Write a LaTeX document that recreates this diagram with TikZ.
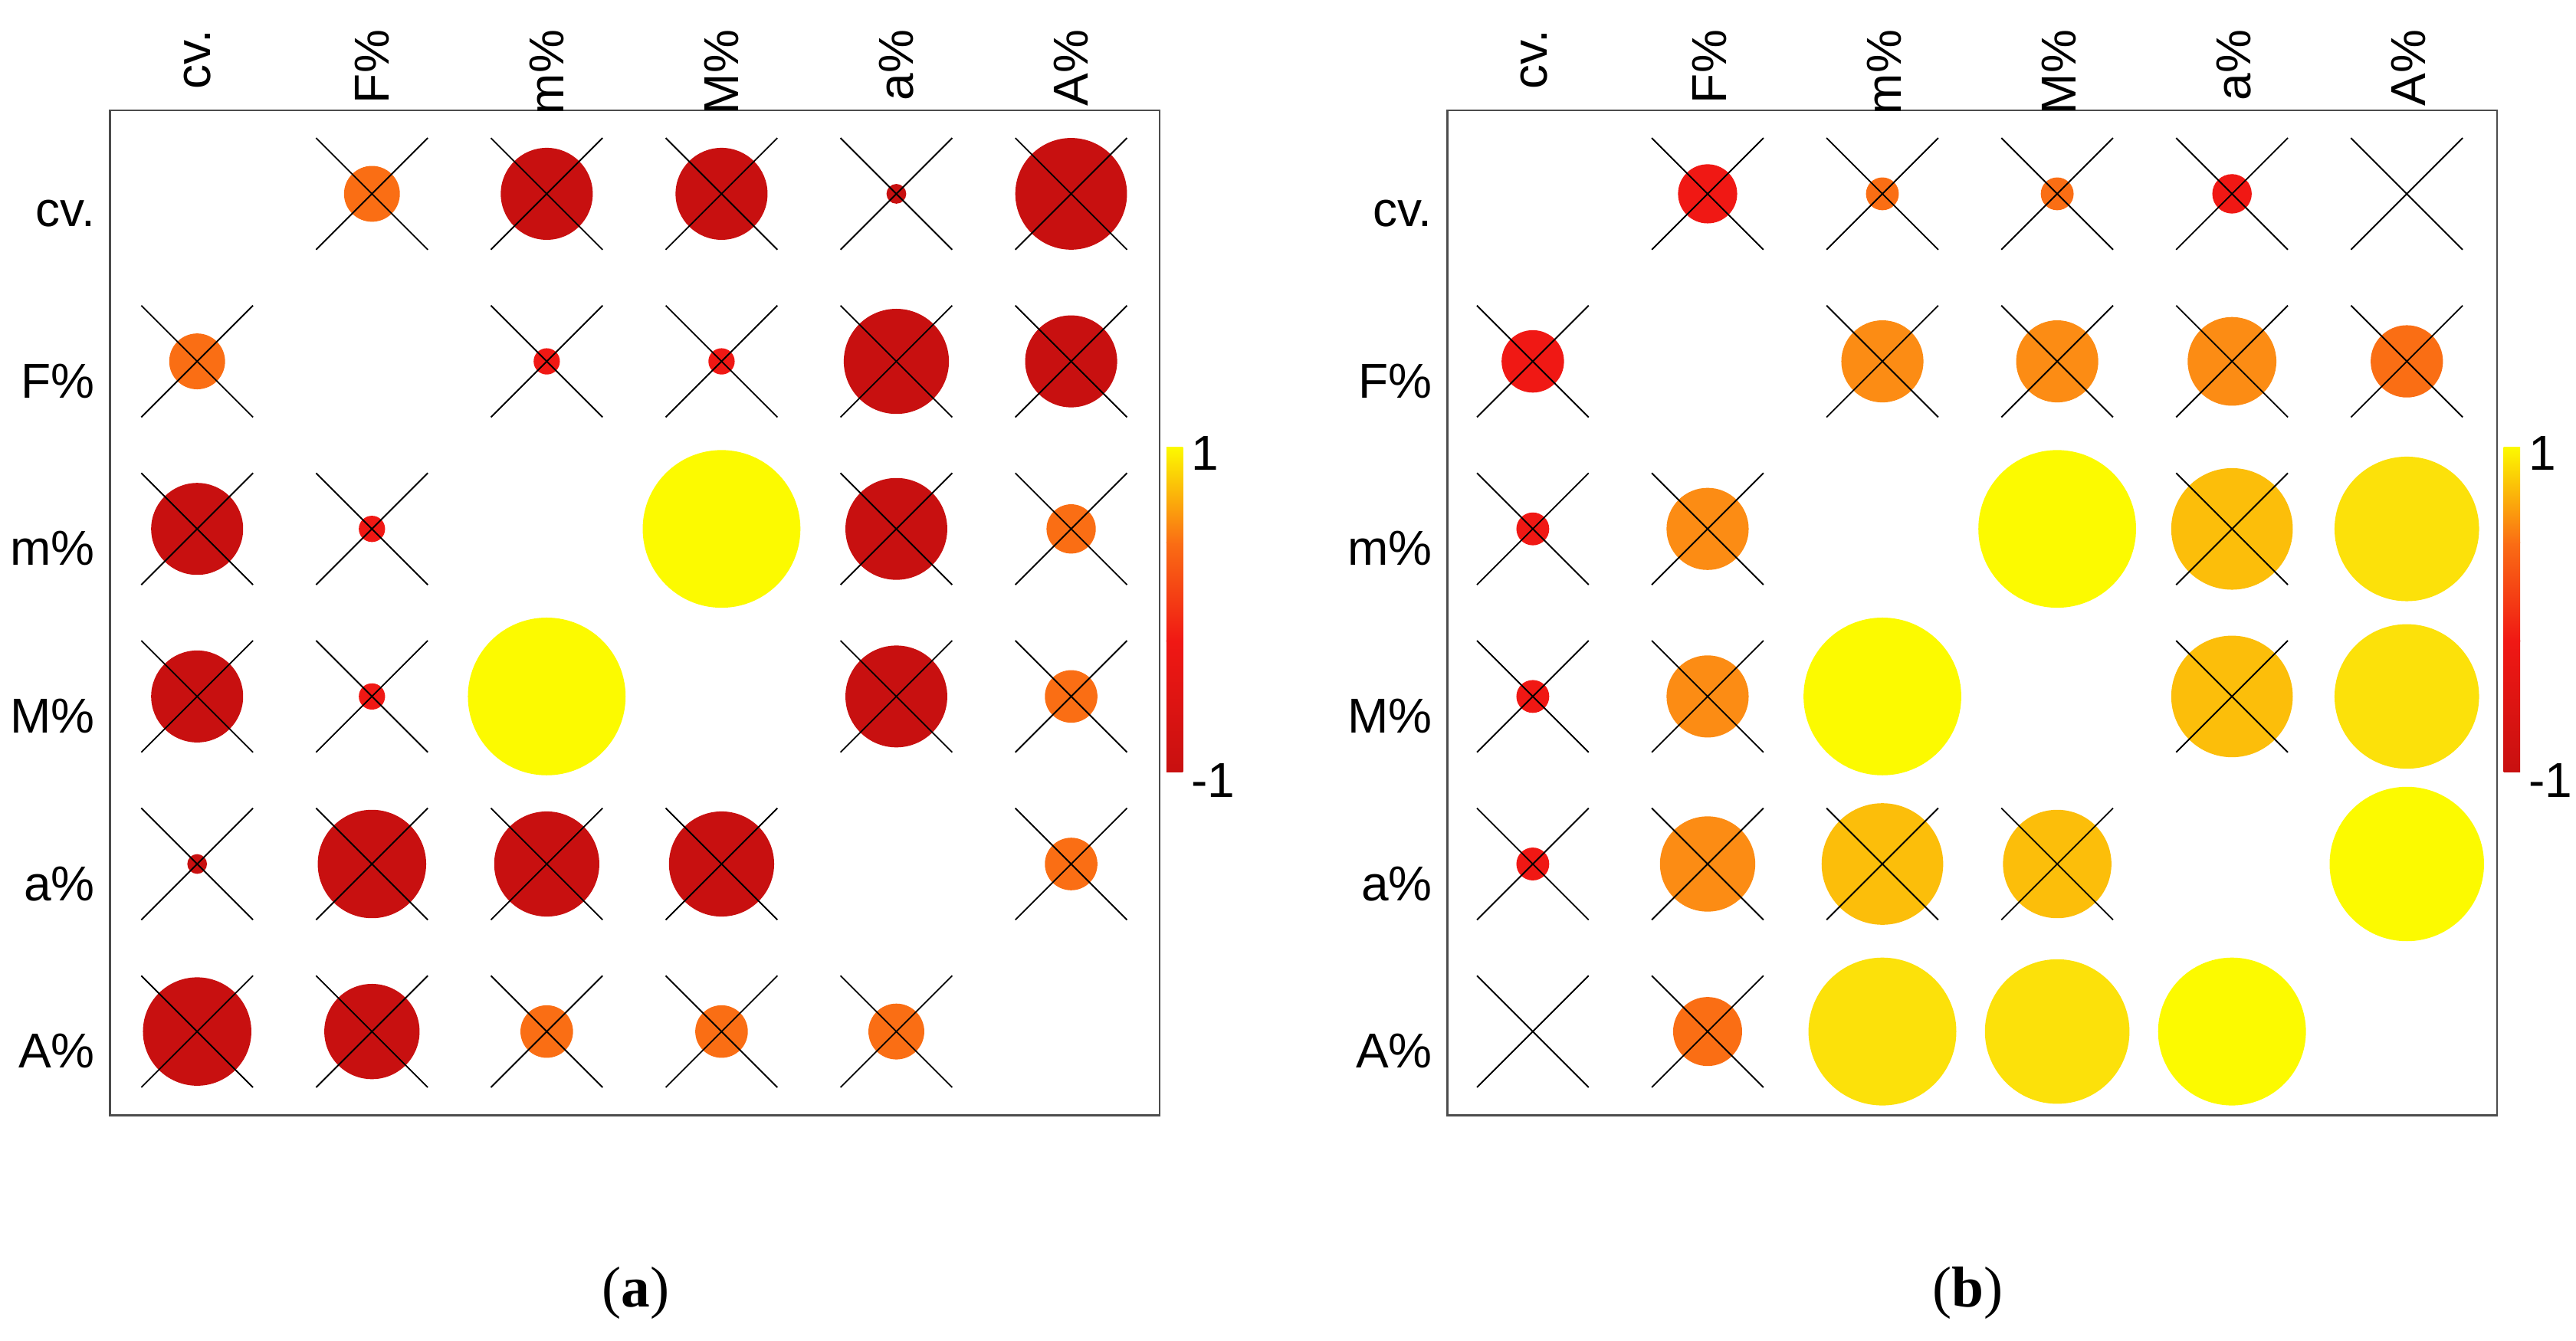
\documentclass[tikz,border=0pt]{standalone}
\usepackage{fontspec}
\setmainfont{Liberation Sans}
\newfontfamily\serifrm{Liberation Serif}
\begin{document}
\definecolor{cD}{RGB}{200,16,16}
\definecolor{cR}{RGB}{240,24,20}
\definecolor{cO}{RGB}{250,110,20}
\definecolor{cF}{RGB}{252,140,20}
\definecolor{cG}{RGB}{252,190,10}
\definecolor{cY}{RGB}{252,225,10}
\definecolor{cW}{RGB}{252,250,0}
\definecolor{n}{RGB}{255,255,255}
\begin{tikzpicture}[x=0.02cm,y=-0.02cm,
  lab/.style={font=\fontsize{17}{20}\selectfont},
  frame/.style={draw=black!70,line width=0.6pt},
  xx/.style={line width=0.5pt}]
\useasboundingbox (0,0) rectangle (1568,816);
\newcommand{\cellc}[6]{%
  \pgfmathsetmacro{\cx}{#1+(#2)*106.4}\pgfmathsetmacro{\cy}{118+(#3)*102}%
  \ifnum#4>0 \fill[#5] (\cx,\cy) circle[radius=#4*0.02cm];\fi
  \ifnum#6=1 \draw[xx] (\cx-34,\cy-34)--(\cx+34,\cy+34) (\cx-34,\cy+34)--(\cx+34,\cy-34);\fi}
\foreach \px/\name in {67/a,881/b}{
  \draw[frame] (\px,67) rectangle (\px+639,679);
  \foreach \t [count=\i from 0] in {cv.,F\%,m\%,M\%,a\%,A\%}{
    \node[lab,rotate=90,anchor=east] (c\name\i) at (\px+53+\i*106.4,12) {\t};
    \node[lab,anchor=east] (r\name\i) at (\px-3,\i*102+130) {\t};
  }
  \shade[bottom color=cD,top color=cR] (\px+643,470) rectangle (\px+653,390);
  \shade[bottom color=cR,top color=cO] (\px+643,390.5) rectangle (\px+653,330);
  \shade[bottom color=cO,top color=cW] (\px+643,330.5) rectangle (\px+653,272);
  \node[lab,anchor=west] (one\name) at (\px+652,276) {1};
  \node[lab,anchor=west] (mone\name) at (\px+652,475) {-1};
}
\node[font=\serifrm\fontsize{20}{24}\selectfont] (capa) at (387,787) {(\textbf{a})};
\node[font=\serifrm\fontsize{20}{24}\selectfont] (capb) at (1198,787) {(\textbf{b})};
\foreach \c/\r/\rad/\col/\x in {
 1/0/17/cO/1, 2/0/28/cD/1, 3/0/28/cD/1, 4/0/6/cD/1, 5/0/34/cD/1,
 0/1/17/cO/1, 2/1/8/cR/1, 3/1/8/cR/1, 4/1/32/cD/1, 5/1/28/cD/1,
 0/2/28/cD/1, 1/2/8/cR/1, 3/2/48/cW/0, 4/2/31/cD/1, 5/2/15/cO/1,
 0/3/28/cD/1, 1/3/8/cR/1, 2/3/48/cW/0, 4/3/31/cD/1, 5/3/16/cO/1,
 0/4/6/cD/1, 1/4/33/cD/1, 2/4/32/cD/1, 3/4/32/cD/1, 5/4/16/cO/1,
 0/5/33/cD/1, 1/5/29/cD/1, 2/5/16/cO/1, 3/5/16/cO/1, 4/5/17/cO/1}
 {\cellc{120}{\c}{\r}{\rad}{\col}{\x}}
\foreach \c/\r/\rad/\col/\x in {
 1/0/18/cR/1, 2/0/10/cO/1, 3/0/10/cO/1, 4/0/12/cR/1, 5/0/0/n/1,
 0/1/19/cR/1, 2/1/25/cF/1, 3/1/25/cF/1, 4/1/27/cF/1, 5/1/22/cO/1,
 0/2/10/cR/1, 1/2/25/cF/1, 3/2/48/cW/0, 4/2/37/cG/1, 5/2/44/cY/0,
 0/3/10/cR/1, 1/3/25/cF/1, 2/3/48/cW/0, 4/3/37/cG/1, 5/3/44/cY/0,
 0/4/10/cR/1, 1/4/29/cF/1, 2/4/37/cG/1, 3/4/33/cG/1, 5/4/47/cW/0,
 0/5/0/n/1, 1/5/21/cO/1, 2/5/45/cY/0, 3/5/44/cY/0, 4/5/45/cW/0}
 {\cellc{933}{\c}{\r}{\rad}{\col}{\x}}
\end{tikzpicture}
\end{document}
